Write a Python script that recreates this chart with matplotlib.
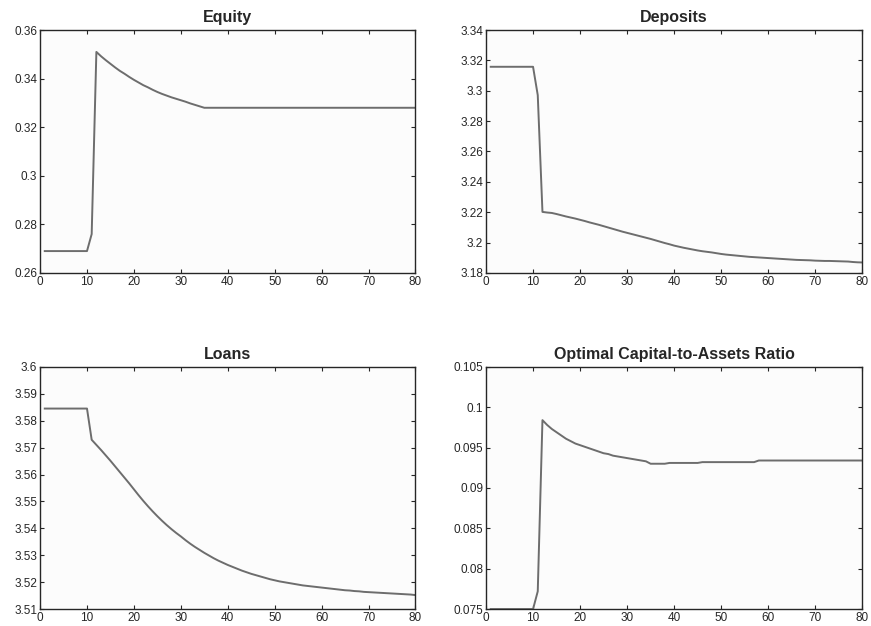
import numpy as np
import matplotlib.pyplot as plt
from matplotlib.ticker import FuncFormatter

plt.rcParams['font.family'] = ['Liberation Sans', 'DejaVu Sans']

# periodos
t = np.arange(1, 81)

# Equity
equity = [0.269] * 10 + [
    0.276, 0.3510, 0.3492, 0.3476, 0.3461, 0.3446, 0.3432, 0.3420, 0.3407, 0.3395,
    0.3384, 0.3373, 0.3364, 0.3354, 0.3345, 0.3337, 0.3330, 0.3323, 0.3317, 0.3311,
    0.3305, 0.3298, 0.3292, 0.3286, 0.3280] + [0.3280] * 45

# Deposits
deposits = [3.3158] * 10 + [
    3.2971, 3.2202, 3.2198, 3.2195, 3.2188, 3.2180, 3.2172, 3.2165, 3.2158, 3.2150,
    3.2142, 3.2133, 3.2125, 3.2117, 3.2108, 3.2099, 3.2090, 3.2081, 3.2072, 3.2064,
    3.2056, 3.2048, 3.2040, 3.2032, 3.2024, 3.2015, 3.2006, 3.1997, 3.1989, 3.1980,
    3.1973, 3.1966, 3.1960, 3.1954, 3.1948, 3.1943, 3.1939, 3.1935, 3.1930, 3.1925,
    3.1921, 3.1918, 3.1915, 3.1912, 3.1909, 3.1906, 3.1904, 3.1902, 3.1900, 3.1898,
    3.1896, 3.1894, 3.1892, 3.1890, 3.1888, 3.1886, 3.1885, 3.1884, 3.1883, 3.1881,
    3.1880, 3.1879, 3.1879, 3.1878, 3.1877, 3.1876, 3.1875, 3.1872, 3.1870, 3.1869]

# Loans
loans = [3.5845] * 10 + [
    3.5729, 3.5710, 3.5691, 3.5671, 3.5651, 3.5630, 3.5609, 3.5588, 3.5567, 3.5545,
    3.5523, 3.5502, 3.5482, 3.5463, 3.5445, 3.5428, 3.5412, 3.5397, 3.5383, 3.5370,
    3.5356, 3.5343, 3.5331, 3.5320, 3.5309, 3.5299, 3.5289, 3.5280, 3.5272, 3.5264,
    3.5257, 3.5250, 3.5243, 3.5237, 3.5231, 3.5226, 3.5221, 3.5216, 3.5211, 3.5207,
    3.5203, 3.5200, 3.5197, 3.5194, 3.5191, 3.5188, 3.5186, 3.5184, 3.5182, 3.5180,
    3.5178, 3.5176, 3.5174, 3.5172, 3.5170, 3.5169, 3.5167, 3.5166, 3.5164, 3.5163,
    3.5162, 3.5161, 3.5160, 3.5159, 3.5158, 3.5157, 3.5156, 3.5155, 3.5154, 3.5152]

# Optimal Capital-to-Assets Ratio
ratio = [0.0750] * 10 + [
    0.0772, 0.0984, 0.0978, 0.0973, 0.0969, 0.0965, 0.0961, 0.0958, 0.0955, 0.0953,
    0.0951, 0.0949, 0.0947, 0.0945, 0.0943, 0.0942, 0.0940, 0.0939, 0.0938, 0.0937,
    0.0936, 0.0935, 0.0934, 0.0933, 0.0930, 0.0930, 0.0930, 0.0930, 0.0931, 0.0931,
    0.0931, 0.0931, 0.0931, 0.0931, 0.0931, 0.0932, 0.0932, 0.0932, 0.0932, 0.0932,
    0.0932, 0.0932, 0.0932, 0.0932, 0.0932, 0.0932, 0.0932, 0.0934] + [0.0934] * 22

titles = ['Equity', 'Deposits', 'Loans', 'Optimal Capital-to-Assets Ratio']
series = [equity, deposits, loans, ratio]
ylims = [(0.26, 0.36), (3.18, 3.34), (3.51, 3.6), (0.075, 0.105)]
ysteps = [0.02, 0.02, 0.01, 0.005]

# posiciones de los ejes (en fracciones de la figura)
posiciones = [
    [0.046, 0.564, 0.431, 0.388],
    [0.558, 0.564, 0.432, 0.388],
    [0.046, 0.027, 0.431, 0.387],
    [0.558, 0.027, 0.432, 0.387],
]

fmt = FuncFormatter(lambda v, p: '%g' % round(v, 4))

fig = plt.figure(figsize=(8.71, 6.26), dpi=100)

for pos, titulo, y, yl, paso in zip(posiciones, titles, series, ylims, ysteps):
    ax = fig.add_axes(pos)
    ax.set_facecolor('#fcfcfc')
    ax.plot(t, y, color='#6d6d6d', linewidth=1.4)
    ax.set_xlim(0, 80)
    ax.set_ylim(*yl)
    ax.set_xticks(np.arange(0, 81, 10))
    ax.set_yticks(np.arange(yl[0], yl[1] + paso / 2, paso))
    ax.yaxis.set_major_formatter(fmt)
    ax.tick_params(direction='in', top=True, right=True, length=3,
                   width=0.8, labelsize=8.5, colors='#262626', pad=2)
    for s in ax.spines.values():
        s.set_color('#262626')
        s.set_linewidth(1.0)
    ax.set_title(titulo, fontsize=11.5, fontweight='bold', color='#262626', pad=6)

fig.savefig('out.png', dpi=100)
